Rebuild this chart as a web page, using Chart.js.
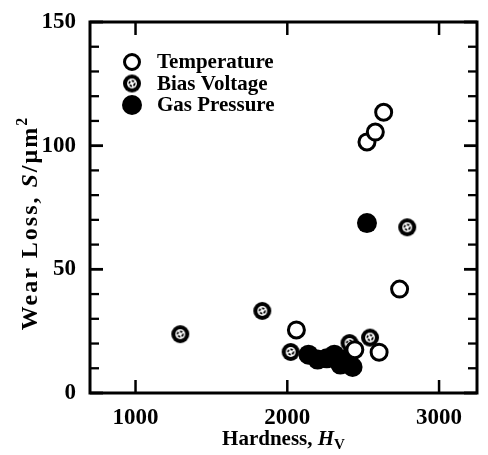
<!DOCTYPE html>
<html>
<head>
<meta charset="utf-8">
<script src="https://cdn.jsdelivr.net/npm/chart.js@4/dist/chart.umd.min.js"></script>
<style>
html,body{margin:0;padding:0;background:#fff;}
#wrap{width:488px;height:455px;position:relative;}
</style>
</head>
<body>
<div id="wrap"><canvas id="c" width="488" height="455"></canvas></div>
<script>
// ---- data ----
const seriesNames = ["Temperature", "Bias Voltage", "Gas Pressure"];
const tempX = [2060, 2445, 2605, 2740, 2525, 2580, 2635];
const tempY = [25.5, 17.5, 16.5, 42, 101.5, 105.5, 113.5];
const biasX = [1295, 1835, 2022, 2410, 2545, 2790];
const biasY = [23.8, 33.2, 16.6, 20.2, 22.4, 67];
const gasX = [2525, 2140, 2200, 2260, 2310, 2350, 2400, 2430];
const gasY = [68.7, 15.5, 13.5, 14, 15.5, 11.5, 14, 10.5];
const xTicks = [1000, 2000, 3000];
const yTicks = [0, 50, 100, 150];
const xRange = [700, 3250];
const yRange = [0, 150];
const yMinorStep = 10;

function pts(xs, ys){ return xs.map((x,i)=>({x:x, y:ys[i]})); }

const FONT = '"Liberation Serif", "Times New Roman", serif';

// bias voltage marker
function makeBias(r){
  const s = Math.ceil(r*2+4);
  const cv = document.createElement('canvas');
  cv.width = s; cv.height = s;
  const g = cv.getContext('2d');
  const c = s/2;
  g.fillStyle = '#000';
  g.beginPath(); g.arc(c,c,r,0,Math.PI*2); g.fill();
  g.fillStyle = '#fff';
  g.beginPath(); g.arc(c,c,r*0.55,0,Math.PI*2); g.fill();
  g.strokeStyle = '#000'; g.lineWidth = 1.8;
  g.setLineDash([2.6,1.4]);
  g.beginPath(); g.arc(c,c,r*0.3,0,Math.PI*2); g.stroke();
  return cv;
}
const biasImg = makeBias(9);

const framePlugin = {
  id: 'frame',
  afterDatasetsDraw(chart){
    const ctx = chart.ctx;
    const a = chart.chartArea;
    const xs = chart.scales.x, ys = chart.scales.y;
    ctx.save();
    ctx.strokeStyle = '#000';
    ctx.lineCap = 'butt';
    ctx.lineWidth = 3;
    ctx.strokeRect(a.left, a.top, a.right - a.left, a.bottom - a.top);
    ctx.lineWidth = 2.5;
    xTicks.forEach(v => {
      const px = xs.getPixelForValue(v);
      ctx.beginPath(); ctx.moveTo(px, a.bottom); ctx.lineTo(px, a.bottom - 13); ctx.stroke();
      ctx.beginPath(); ctx.moveTo(px, a.top); ctx.lineTo(px, a.top + 13); ctx.stroke();
    });
    for (let v = yRange[0]; v <= yRange[1]; v += yMinorStep) {
      const py = ys.getPixelForValue(v);
      const major = yTicks.includes(v);
      const len = major ? 13 : 9;
      ctx.lineWidth = major ? 2.8 : 2.3;
      ctx.beginPath(); ctx.moveTo(a.left, py); ctx.lineTo(a.left + len, py); ctx.stroke();
      ctx.beginPath(); ctx.moveTo(a.right, py); ctx.lineTo(a.right - len, py); ctx.stroke();
    }
    ctx.restore();
  },
  afterDraw(chart){
    const ctx = chart.ctx;
    const a = chart.chartArea;
    ctx.save();
    ctx.fillStyle = '#000';
    ctx.textBaseline = 'alphabetic';
    const pN = 'bold 21px ' + FONT, pI = 'italic bold 21px ' + FONT, pS = 'bold 15px ' + FONT;
    const parts = [['Hardness, ', pN, 0], ['H', pI, 0], ['V', pS, 4]];
    let w = 0;
    parts.forEach(p => { ctx.font = p[1]; w += ctx.measureText(p[0]).width; });
    let x = (a.left + a.right)/2 - w/2;
    const by = 445;
    parts.forEach(p => { ctx.font = p[1]; ctx.fillText(p[0], x, by + p[2]); x += ctx.measureText(p[0]).width; });
    // y title
    const qN = 'bold 24px ' + FONT, qI = 'italic bold 24px ' + FONT, qS = 'bold 16px ' + FONT;
    ctx.translate(37, 223);
    ctx.rotate(-Math.PI/2);
    ctx.letterSpacing = '2px';
    const yparts = [['Wear Loss, ', qN, 0], ['S', qI, 0], ['/\u03BCm', qN, 0], ['2', qS, -10]];
    w = 0;
    yparts.forEach(p => { ctx.font = p[1]; w += ctx.measureText(p[0]).width; });
    x = -w/2;
    yparts.forEach(p => { ctx.font = p[1]; ctx.fillText(p[0], x, p[2]); x += ctx.measureText(p[0]).width; });
    ctx.restore();
    // legend
    ctx.save();
    const lx = 132, ly0 = 62, dy = 21.5;
    ctx.font = 'bold 21px ' + FONT;
    ctx.textBaseline = 'middle';
    seriesNames.forEach((name, i) => {
      const cy = ly0 + i*dy;
      if (i === 0) {
        ctx.beginPath(); ctx.arc(lx, cy, 7.5, 0, Math.PI*2);
        ctx.fillStyle = '#fff'; ctx.fill();
        ctx.lineWidth = 3; ctx.strokeStyle = '#000'; ctx.stroke();
      } else if (i === 1) {
        ctx.drawImage(biasImg, lx - biasImg.width/2, cy - biasImg.height/2);
      } else {
        ctx.beginPath(); ctx.arc(lx, cy, 10, 0, Math.PI*2);
        ctx.fillStyle = '#000'; ctx.fill();
      }
      ctx.fillStyle = '#000';
      ctx.fillText(name, 157, cy + 1);
    });
    ctx.restore();
  }
};

new Chart(document.getElementById('c'), {
  type: 'scatter',
  data: {
    datasets: [
      { label: seriesNames[0], data: pts(tempX, tempY), pointStyle: 'circle', pointRadius: 8,
        pointBackgroundColor: '#fff', pointBorderColor: '#000', pointBorderWidth: 3 },
      { label: seriesNames[1], data: pts(biasX, biasY), pointStyle: biasImg, pointRadius: 9 },
      { label: seriesNames[2], data: pts(gasX, gasY), pointStyle: 'circle', pointRadius: 10,
        pointBackgroundColor: '#000', pointBorderColor: '#000', pointBorderWidth: 0 }
    ]
  },
  options: {
    responsive: false,
    animation: false,
    events: [],
    layout: { padding: { top: 22, right: 6, left: 0, bottom: 0 } },
    plugins: { legend: { display: false }, tooltip: { enabled: false } },
    scales: {
      x: {
        type: 'linear', min: xRange[0], max: xRange[1],
        grid: { display: false }, border: { display: false },
        afterBuildTicks: s => { s.ticks = xTicks.map(v => ({ value: v })); },
        afterFit: s => { s.height = 62; },
        ticks: { color: '#000', font: { family: FONT, size: 23, weight: 'bold' }, padding: 3, maxRotation: 0,
                 callback: v => String(v) }
      },
      y: {
        type: 'linear', min: yRange[0], max: yRange[1],
        grid: { display: false }, border: { display: false },
        afterBuildTicks: s => { s.ticks = yTicks.map(v => ({ value: v })); },
        afterFit: s => { s.width = 90; },
        ticks: { color: '#000', font: { family: FONT, size: 23, weight: 'bold' }, padding: 6,
                 callback: v => String(v) }
      }
    }
  },
  plugins: [framePlugin]
});
</script>
</body>
</html>
